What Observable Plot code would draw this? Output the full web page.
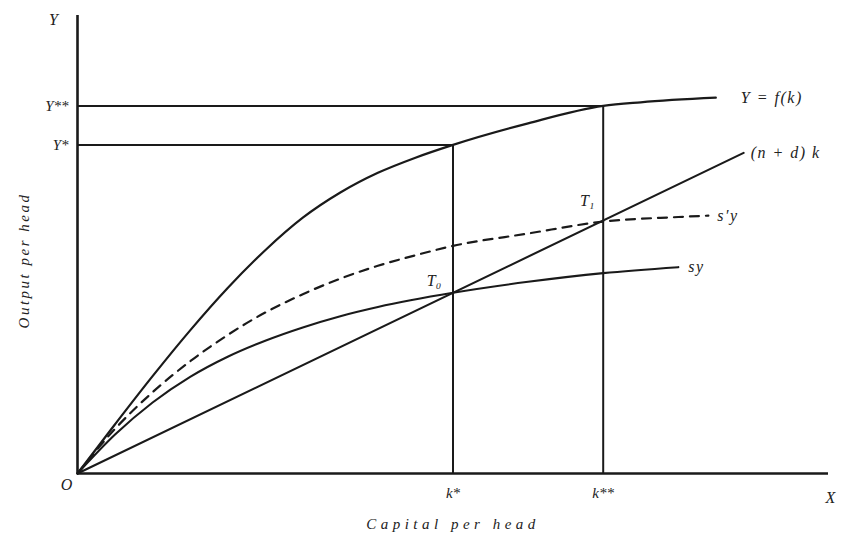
<!DOCTYPE html>
<html><head><meta charset="utf-8">
<script src="https://cdn.jsdelivr.net/npm/d3@7"></script>
<script src="https://cdn.jsdelivr.net/npm/@observablehq/plot@0.6"></script>
<style>
body{margin:0;background:#fff}
g[aria-label="x-axis label"] text{letter-spacing:4.5px}
.ylab text{letter-spacing:2.5px}
.cl text{letter-spacing:1.5px}
</style></head><body><div id="chart"></div>
<script>
// Production function Y = f(k)
const fK = [0,0.5,1,1.5,2,2.5,3,3.5,4,4.5,5,6,7,7.5,8.5];
const fY = [0,1.075,2.125,3.125,4.05,4.875,5.585,6.135,6.565,6.895,7.175,7.645,8.025,8.105,8.205];
// Savings curve sy
const syK = [0,0.5,1,1.5,2,2.5,3,3.5,4,5,6,7,8];
const syY = [0,0.85,1.55,2.11,2.55,2.9,3.19,3.435,3.635,3.945,4.185,4.375,4.505];
// Higher savings curve s'y (dashed)
const s2K = [0,0.5,1,1.5,2,2.5,3,3.5,4,4.5,5,6,7,8,8.4];
const s2Y = [0,0.975,1.775,2.45,3.025,3.515,3.915,4.255,4.535,4.765,4.97,5.24,5.5,5.6,5.63];
// Required investment line (n + d) k
const ndK = [0,8.87];
const ndY = [0,7.0];
// Steady states
const kStar = 5.0, kStar2 = 7.0;
const yStar = 7.175, yStar2 = 8.025;
const xTicks = [kStar, kStar2];
const xTickLabels = ["k*", "k**"];
const yTicks = [yStar, yStar2];
const yTickLabels = ["Y*", "Y**"];

const toPts = (xs, ys) => xs.map((x, i) => ({x, y: ys[i]}));
const ink = "#1a1a1a";
const f = toPts(fK, fY), sy = toPts(syK, syY), s2 = toPts(s2K, s2Y), nd = toPts(ndK, ndY);
const last = a => a[a.length - 1];

const chart = Plot.plot({
  width: 857, height: 534,
  marginLeft: 77, marginRight: 29, marginTop: 15, marginBottom: 61,
  x: {domain: [0, 10]},
  y: {domain: [0, 10]},
  style: {fontFamily: "Liberation Serif", fontStyle: "italic", fontSize: "15px", color: "#222", background: "#fff"},
  marks: [
    Plot.axisX(xTicks, {tickFormat: d => xTickLabels[xTicks.indexOf(d)], tickSize: 0, tickPadding: 14, fontSize: 15,
      label: "Capital per head", labelAnchor: "center", labelOffset: 55, labelArrow: "none"}),
    Plot.axisY(yTicks, {tickFormat: d => yTickLabels[yTicks.indexOf(d)], tickSize: 0, tickPadding: 9, fontSize: 15, label: null}),
    // guide lines
    Plot.ruleY([{y: yStar, x2: kStar}, {y: yStar2, x2: kStar2}], {y: "y", x1: 0, x2: "x2", stroke: ink, strokeWidth: 2}),
    Plot.ruleX([{x: kStar, y2: yStar}, {x: kStar2, y2: yStar2}], {x: "x", y1: 0, y2: "y2", stroke: ink, strokeWidth: 2}),
    // curves
    Plot.line(f, {x: "x", y: "y", curve: "monotone-x", stroke: ink, strokeWidth: 2.2}),
    Plot.line(sy, {x: "x", y: "y", curve: "monotone-x", stroke: ink, strokeWidth: 2.1}),
    Plot.line(s2, {x: "x", y: "y", curve: "monotone-x", stroke: ink, strokeWidth: 2.2, strokeDasharray: "9,7"}),
    Plot.line(nd, {x: "x", y: "y", stroke: ink, strokeWidth: 2.1}),
    // axes lines
    Plot.ruleX([0], {stroke: ink, strokeWidth: 2.6}),
    Plot.ruleY([0], {stroke: ink, strokeWidth: 2.6}),
    // curve labels
    Plot.text([last(f)], {x: "x", y: "y", text: () => "Y = f(k)", textAnchor: "start", dx: 25, fontSize: 16, className: "cl"}),
    Plot.text([last(nd)], {x: "x", y: "y", text: () => "(n + d) k", textAnchor: "start", dx: 7, fontSize: 16, className: "cl"}),
    Plot.text([last(s2)], {x: "x", y: "y", text: () => "s′y", textAnchor: "start", dx: 9, fontSize: 16, className: "cl"}),
    Plot.text([last(sy)], {x: "x", y: "y", text: () => "sy", textAnchor: "start", dx: 10, fontSize: 16, className: "cl"}),
    Plot.text([{x: kStar2, y: ndY[1] / ndK[1] * kStar2}], {x: "x", y: "y", text: () => "T₁", dx: -16, dy: -20, fontSize: 16}),
    Plot.text([{x: kStar, y: ndY[1] / ndK[1] * kStar}], {x: "x", y: "y", text: () => "T₀", dx: -19, dy: -12, fontSize: 16}),
    // axis end letters
    Plot.text([{x: 0, y: 0}], {x: "x", y: "y", text: () => "O", dx: -11, dy: 11, fontSize: 16}),
    Plot.text([{x: 0, y: 10}], {x: "x", y: "y", text: () => "Y", dx: -24, dy: 4, fontSize: 16}),
    Plot.text([{x: 10, y: 0}], {x: "x", y: "y", text: () => "X", dx: 2, dy: 24, fontSize: 16}),
    Plot.text([{x: 0, y: 4.65}], {x: "x", y: "y", text: () => "Output per head", rotate: -90, dx: -53, fontSize: 15, className: "ylab"})
  ]
});
document.getElementById("chart").append(chart);
</script></body></html>
